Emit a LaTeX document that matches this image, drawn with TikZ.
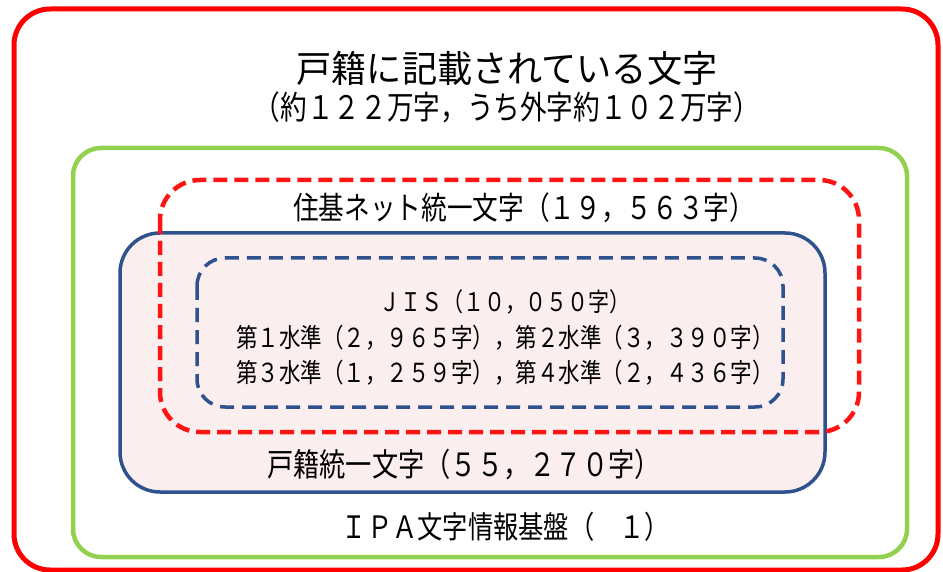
\documentclass[tikz,border=0pt]{standalone}
\usepackage{fontspec}
\newfontfamily\jpfont[FakeStretch=0.95]{Noto Sans CJK JP}
\newfontfamily\jpnarrow[FakeStretch=0.82]{Noto Sans CJK JP}
\definecolor{frameblue}{RGB}{47,82,143}
\definecolor{framegreen}{RGB}{146,208,80}
\definecolor{framered}{RGB}{255,20,20}
\definecolor{paleback}{RGB}{251,238,238}
\tikzset{
  outer frame/.style={draw=red, line width=5pt, rounded corners=36pt},
  ipa frame/.style={draw=framegreen, line width=4.5pt, rounded corners=28pt},
  koseki frame/.style={draw=frameblue, fill=paleback, line width=3.5pt, rounded corners=40pt},
  juki frame/.style={draw=framered, line width=4.5pt, dash pattern=on 14pt off 7pt, rounded corners=40pt},
  jis frame/.style={draw=frameblue, line width=3.5pt, dash pattern=on 14pt off 8pt, rounded corners=28pt},
  label/.style={inner sep=0pt, font=\jpnarrow\fontsize{#1}{#1}\selectfont},
  label/.default=30
}

\begin{document}
\begin{tikzpicture}[x=1pt, y=-1pt]
\useasboundingbox (0,0) rectangle (943,572);
% nested frames, outer first
\draw[outer frame] (14,9) rectangle (938,570);
\draw[ipa frame] (73,148) rectangle (907,557);
\draw[koseki frame] (120,233) rectangle (825,492);
\draw[juki frame] (160,180) rectangle (859,432);
\draw[jis frame] (197,258) rectangle (783,407);
% texts
\node[inner sep=0pt, font=\jpfont\fontsize{37}{37}\selectfont] (title) at (507,68) {戸籍に記載されている文字};
\node[label=32.5] (subtitle) at (507,107) {（約１２２万字，うち外字約１０２万字）};
\node[label=31.3] (juki) at (524,208) {住基ネット統一文字（１９，５６３字）};
\node[label=25.6] (jis) at (505,302) {ＪＩＳ（１０，０５０字）};
\node[label=26.2] (level12) at (505,338) {第１水準（２，９６５字），第２水準（３，３９０字）};
\node[label=26.2] (level34) at (505,373) {第３水準（１，２５９字），第４水準（２，４３６字）};
\node[label=32] (koseki) at (464,465) {戸籍統一文字（５５，２７０字）};
\node[label=30.8] (ipa) at (506,527) {ＩＰＡ文字情報基盤（　１）};
\end{tikzpicture}
\end{document}
